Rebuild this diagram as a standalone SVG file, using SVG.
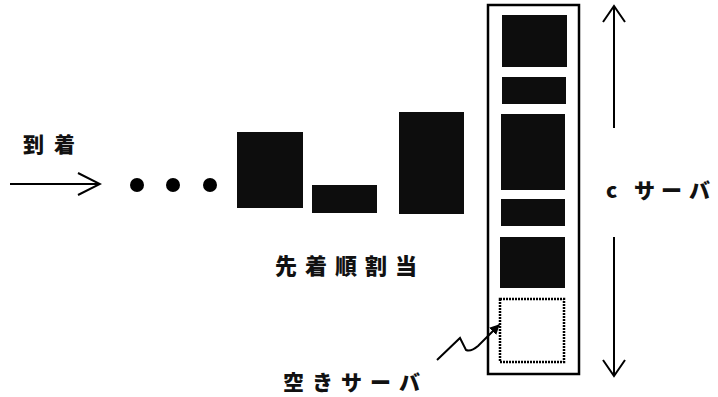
<svg xmlns="http://www.w3.org/2000/svg" width="718" height="397" viewBox="0 0 718 397">
<defs>
<style>
.lbl{font-family:"Noto Sans CJK JP","Noto Sans",sans-serif;font-weight:900;fill:#111;}
.job{fill:#0d0d0d;stroke:none;}
.ln{stroke:#000;stroke-width:2;fill:none;}
</style>
<marker id="open" viewBox="0 0 26 26" refX="24" refY="13" markerWidth="26" markerHeight="26" markerUnits="userSpaceOnUse" orient="auto">
<path d="M2,2 L24,13 L2,24" fill="none" stroke="#000" stroke-width="2"/>
</marker>
<marker id="openV" viewBox="0 0 24 24" refX="22" refY="12" markerWidth="24" markerHeight="24" markerUnits="userSpaceOnUse" orient="auto">
<path d="M6,1 L22,12 L6,23" fill="none" stroke="#000" stroke-width="2"/>
</marker>
<marker id="small" viewBox="0 0 10 10" refX="9" refY="5" markerWidth="10" markerHeight="10" markerUnits="userSpaceOnUse" orient="auto">
<path d="M0,0 L10,5 L0,10 Z" fill="#000"/>
</marker>
</defs>
<rect width="718" height="397" fill="#fff"/>

<g id="arrival">
<text class="lbl" font-size="21" x="23 54" y="152">到着</text>
</g>

<g id="queue">
<circle cx="137" cy="185" r="7" fill="#000"/>
<circle cx="173" cy="185" r="7" fill="#000"/>
<circle cx="210" cy="185" r="7" fill="#000"/>
<rect class="job" x="237" y="132" width="66" height="76"/>
<rect class="job" x="312" y="185" width="65" height="28"/>
<rect class="job" x="399" y="112" width="65" height="102"/>
</g>

<g id="fcfs-label">
<text class="lbl" font-size="22" x="275 305 335 365 395" y="274">先着順割当</text>
</g>

<g id="servers">
<rect x="488" y="5" width="91" height="369" fill="none" stroke="#000" stroke-width="2.5"/>
<rect class="job" x="502" y="15" width="65" height="52"/>
<rect class="job" x="502" y="77" width="64" height="27"/>
<rect class="job" x="501" y="114" width="64" height="76"/>
<rect class="job" x="501" y="199" width="64" height="27"/>
<rect class="job" x="500" y="237" width="65" height="51"/>
<rect x="500" y="299" width="64" height="63" fill="none" stroke="#000" stroke-width="2.5" stroke-dasharray="2,1"/>
</g>

<g id="c-server-label">
<text class="lbl" font-size="21" x="606 634 661 689" y="198">cサーバ</text>
</g>

<g id="idle-label">
<text class="lbl" font-size="21" x="283 312 341 370 399" y="390">空きサーバ</text>
</g>

<g id="connectors">
<line class="ln" x1="10" y1="184" x2="100" y2="184" marker-end="url(#open)"/>
<line class="ln" x1="614" y1="128" x2="614" y2="6" marker-end="url(#openV)"/>
<line class="ln" x1="614" y1="237" x2="614" y2="376" marker-end="url(#openV)"/>
<path class="ln" d="M437,360 L460,338 L466,350 Q471,352 478,346 L499,325" marker-end="url(#small)"/>
</g>
</svg>
